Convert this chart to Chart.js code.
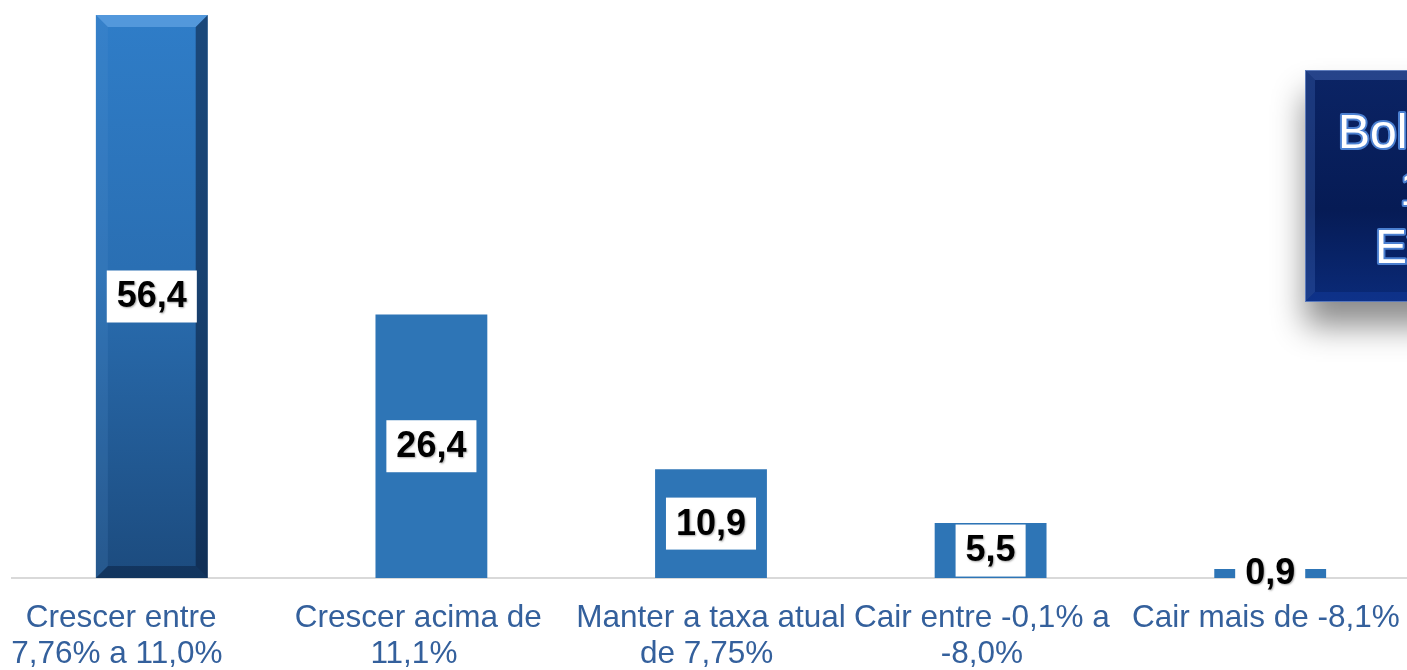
<!DOCTYPE html>
<html>
<head>
<meta charset="utf-8">
<script src="https://cdn.jsdelivr.net/npm/chart.js@4/dist/chart.umd.min.js"></script>
<style>
  html, body { margin: 0; padding: 0; background: #fff; overflow: hidden; }
  #wrap { width: 1410px; height: 670px; position: relative; }
</style>
</head>
<body>
<div id="wrap"><canvas id="barChart"></canvas></div>
<script>
const categories = [
  ["Crescer entre", "7,76% a 11,0%"],
  ["Crescer acima de", "11,1%"],
  ["Manter a taxa atual", "de 7,75%"],
  ["Cair entre -0,1% a", "-8,0%"],
  ["Cair mais de -8,1%"],
];
const values = [56.4, 26.4, 10.9, 5.5, 0.9];
const boxLines = ["Boletim Focus", "15/05/2023", "Expectativas"];

// the original labels sit a little left of the bar centres (trailing spaces per line)
const labelNudge = [[7, 8], [3, 4], [0, 1], [2, 2], [1]];

const fmt = (v) => v.toFixed(1).replace(".", ",");

// gradient + bevel for the first (highlighted) bar
const firstBarFill = (context) => {
  const chart = context.chart;
  if (context.dataIndex !== 0) return "#2E75B6";
  const area = chart.chartArea;
  if (!area) return "#2B72BA";
  const g = chart.ctx.createLinearGradient(0, area.top, 0, area.bottom);
  g.addColorStop(0, "#2F7DC8");
  g.addColorStop(0.45, "#2A6FB3");
  g.addColorStop(1, "#1C4B7E");
  return g;
};

const bevelPlugin = {
  id: "bevel",
  afterDatasetsDraw(chart) {
    const ctx = chart.ctx;
    const bar = chart.getDatasetMeta(0).data[0];
    const l = bar.x - bar.width / 2, r = bar.x + bar.width / 2;
    const t = bar.y, b = bar.base, s = 12;
    ctx.save();
    const poly = (pts, col) => {
      ctx.beginPath();
      ctx.moveTo(pts[0][0], pts[0][1]);
      pts.slice(1).forEach((p) => ctx.lineTo(p[0], p[1]));
      ctx.closePath();
      ctx.fillStyle = col;
      ctx.fill();
    };
    poly([[l, t], [r, t], [r - s, t + s], [l + s, t + s]], "rgba(120,180,240,0.5)");
    poly([[r, t], [r, b], [r - s, b - s], [r - s, t + s]], "rgba(5,20,45,0.5)");
    poly([[l, b], [r, b], [r - s, b - s], [l + s, b - s]], "rgba(5,20,45,0.4)");
    poly([[l, t], [l + s, t + s], [l + s, b - s], [l, b]], "rgba(90,150,210,0.18)");
    ctx.restore();
  },
};

const labelPlugin = {
  id: "valueLabels",
  afterDatasetsDraw(chart) {
    const ctx = chart.ctx;
    ctx.save();
    ctx.font = "bold 36px 'Liberation Sans', Arial, sans-serif";
    ctx.textAlign = "center";
    ctx.textBaseline = "middle";
    chart.getDatasetMeta(0).data.forEach((bar, i) => {
      const txt = fmt(values[i]);
      const cy = (bar.y + bar.base) / 2;
      const w = ctx.measureText(txt).width + 20;
      const h = 52;
      ctx.fillStyle = "#ffffff";
      ctx.fillRect(bar.x - w / 2, cy - h / 2, w, h);
      ctx.shadowColor = "rgba(0,0,0,0.35)";
      ctx.shadowBlur = 2;
      ctx.shadowOffsetX = 1;
      ctx.shadowOffsetY = 1;
      ctx.fillStyle = "#000000";
      ctx.fillText(txt, bar.x, cy + 1);
      ctx.shadowColor = "transparent";
    });
    ctx.restore();
  },
};

const sideBoxPlugin = {
  id: "sideBox",
  afterDraw(chart) {
    const ctx = chart.ctx;
    const x = 1305, y = 70, w = 200, h = 232, s = 10;
    ctx.save();
    ctx.shadowColor = "rgba(0,0,0,0.45)";
    ctx.shadowBlur = 30;
    ctx.shadowOffsetY = 24;
    ctx.fillStyle = "#0A2262";
    ctx.fillRect(x, y, w, h);
    ctx.shadowColor = "transparent";
    const g = ctx.createLinearGradient(0, y, 0, y + h);
    g.addColorStop(0, "#0B2465");
    g.addColorStop(0.6, "#061B55");
    g.addColorStop(1, "#0A2A78");
    ctx.fillStyle = g;
    ctx.fillRect(x, y, w, h);
    // bevel
    ctx.fillStyle = "rgba(90,130,210,0.35)";
    ctx.beginPath();
    ctx.moveTo(x, y); ctx.lineTo(x + w, y); ctx.lineTo(x + w - s, y + s); ctx.lineTo(x + s, y + s);
    ctx.closePath(); ctx.fill();
    ctx.fillStyle = "rgba(70,110,190,0.3)";
    ctx.beginPath();
    ctx.moveTo(x, y); ctx.lineTo(x + s, y + s); ctx.lineTo(x + s, y + h - s); ctx.lineTo(x, y + h);
    ctx.closePath(); ctx.fill();
    ctx.fillStyle = "rgba(20,60,160,0.45)";
    ctx.beginPath();
    ctx.moveTo(x, y + h); ctx.lineTo(x + s, y + h - s); ctx.lineTo(x + w - s, y + h - s); ctx.lineTo(x + w, y + h);
    ctx.closePath(); ctx.fill();
    ctx.strokeStyle = "rgba(120,150,210,0.7)";
    ctx.lineWidth = 1;
    ctx.strokeRect(x + 0.5, y + 0.5, w - 1, h - 1);
    // text
    ctx.font = "48px 'Liberation Sans', Arial, sans-serif";
    ctx.textAlign = "left";
    ctx.textBaseline = "alphabetic";
    ctx.lineJoin = "round";
    const pos = [[1338, 148], [1400, 205], [1375, 263]];
    boxLines.forEach((line, i) => {
      ctx.strokeStyle = "#4A7FD0";
      ctx.lineWidth = 4;
      ctx.strokeText(line, pos[i][0], pos[i][1]);
      ctx.fillStyle = "#ffffff";
      ctx.fillText(line, pos[i][0], pos[i][1]);
    });
    ctx.restore();
  },
};

const makeGraph = () => {
  const chart_ctx = document.getElementById("barChart");
  const data = {
    labels: categories,
    datasets: [
      {
        data: values,
        backgroundColor: firstBarFill,
        borderWidth: 0,
        barPercentage: 0.4,
        categoryPercentage: 1.0,
      },
    ],
  };
  const config = {
    type: "bar",
    data,
    options: {
      responsive: true,
      maintainAspectRatio: false,
      animation: false,
      layout: { padding: { top: 15, left: 12, right: 0, bottom: 0 } },
      plugins: { legend: { display: false }, tooltip: { enabled: false } },
      scales: {
        x: {
          grid: { display: true, drawOnChartArea: false, drawTicks: false },
          border: { display: true, color: "#D9D9D9", width: 2 },
          ticks: {
            autoSkip: false,
            maxRotation: 0,
            minRotation: 0,
            padding: 23,
            color: "#34609C",
            font: { family: "'Liberation Sans', Arial, sans-serif", size: 31.5, lineHeight: 1.12 },
            callback: (value, index) =>
              categories[index].map((line, j) => line + " ".repeat(labelNudge[index][j] || 0)),
          },
          afterFit: (scale) => {
            scale.height = 92;
            scale.paddingLeft = 0;
            scale.paddingRight = 0;
          },
        },
        y: {
          display: false,
          min: 0,
          max: 56.4,
        },
      },
    },
    plugins: [bevelPlugin, labelPlugin, sideBoxPlugin],
  };
  return new Chart(chart_ctx, config);
};

makeGraph();
</script>
</body>
</html>
